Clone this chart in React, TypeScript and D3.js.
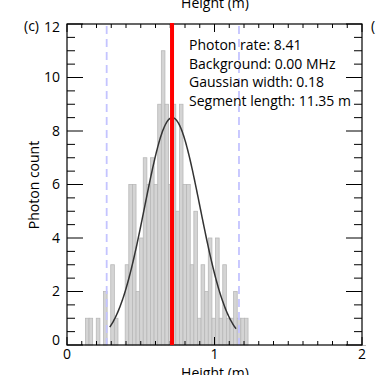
import React from "react";
import * as d3 from "d3";

// Histogram (bin starts at BIN_START, uniform BIN_WIDTH)
const BIN_START = 0.125;
const BIN_WIDTH = 0.0245;
const counts = [
  1, 1, 0, 1, 0, 2, 0, 3, 1, 0, 0,
  3, 6, 6, 2, 4, 7, 6, 7, 6, 9, 11, 9, 6, 9, 5, 9, 6, 6, 3, 5,
  1, 3, 2, 4, 1, 4, 1, 3, 1, 1, 2, 1, 1, 1,
];

const yMajorTicks = [0, 2, 4, 6, 8, 10, 12];
const xMajorTicks = [0, 1, 2];

// Gaussian fit parameters
const fitCenter = 0.714;
const fitSigma = 0.188;
const fitAmp = 8.5;
const fitFrom = 0.29;
const fitTo = 1.146;

const redLineX = 0.712;
const dashedX = [0.269, 1.166];

const infoLines = [
  "Photon rate: 8.41",
  "Background: 0.00 MHz",
  "Gaussian width: 0.18",
  "Segment length: 11.35 m",
];

const FONT = "'Open Sans', 'Noto Sans', sans-serif";

export default function App() {
  const W = 386;
  const H = 375;
  const x = d3.scaleLinear().domain([0, 2]).range([67, 362]);
  const y = d3.scaleLinear().domain([0, 12]).range([345, 24]);

  const yMinor = d3.range(0, 12.001, 0.5);
  const xMinor = d3.range(0, 2.001, 0.1);

  const fitPts = d3.range(0, 201).map((i) => {
    const xv = fitFrom + ((fitTo - fitFrom) * i) / 200;
    return [xv, fitAmp * Math.exp(-((xv - fitCenter) ** 2) / (2 * fitSigma ** 2))];
  });
  const line = d3
    .line<number[]>()
    .x((d) => x(d[0]))
    .y((d) => y(d[1]));

  const bars = counts.map((c, i) => ({
    x0: BIN_START + i * BIN_WIDTH,
    x1: BIN_START + (i + 1) * BIN_WIDTH,
    c,
  }));

  return (
    <svg
      width={W}
      height={H}
      style={{ position: "absolute", left: 0, top: 0, background: "#fff" }}
      fontFamily={FONT}
    >
      {/* histogram */}
      {bars
        .filter((b) => b.c > 0)
        .map((b, i) => (
          <rect
            key={i}
            x={x(b.x0)}
            y={y(b.c)}
            width={x(b.x1) - x(b.x0)}
            height={y(0) - y(b.c)}
            fill="#d4d4d4"
            stroke="#b8b8b8"
            strokeWidth={0.8}
          />
        ))}

      {/* dashed lines */}
      {dashedX.map((d, i) => (
        <line
          key={i}
          x1={x(d)}
          x2={x(d)}
          y1={y(12) + 2}
          y2={y(0)}
          stroke="#c4c4ff"
          strokeWidth={1.8}
          strokeDasharray="8,5"
        />
      ))}

      {/* gaussian */}
      <path d={line(fitPts) || ""} fill="none" stroke="#333" strokeWidth={1.5} />

      {/* axes frame */}
      <line x1={x(2)} x2={x(2) + 4} y1={y(0) + 0.5} y2={y(0) + 0.5} stroke="#bbb" />
      <rect
        x={x(0)}
        y={y(12)}
        width={x(2) - x(0)}
        height={y(0) - y(12)}
        fill="none"
        stroke="#000"
        strokeWidth={1.2}
      />
      {/* y ticks left & right */}
      {yMinor.map((v, i) => {
        const major = Math.abs(v % 2) < 1e-6;
        const len = major ? 16 : 8;
        return (
          <g key={i}>
            <line x1={x(0)} x2={x(0) + len} y1={y(v)} y2={y(v)} stroke="#000" />
            <line x1={x(2)} x2={x(2) - len} y1={y(v)} y2={y(v)} stroke="#000" />
          </g>
        );
      })}
      {/* x ticks top & bottom */}
      {xMinor.map((v, i) => {
        const major = Math.abs(v - Math.round(v)) < 1e-6;
        const len = major ? 8 : 4;
        return (
          <g key={i}>
            <line x1={x(v)} x2={x(v)} y1={y(0)} y2={y(0) - len} stroke="#000" />
            <line x1={x(v)} x2={x(v)} y1={y(12)} y2={y(12) + len} stroke="#000" />
          </g>
        );
      })}

      {/* red line */}
      <line
        x1={x(redLineX)}
        x2={x(redLineX)}
        y1={y(12) - 1}
        y2={y(0)}
        stroke="#ff0000"
        strokeWidth={4}
      />

      {/* y tick labels */}
      {yMajorTicks.map((v) => {
        let cy = y(v);
        if (v === 12) cy += 3;
        if (v === 0) cy -= 5;
        return (
          <text key={v} x={60} y={cy} dy="0.35em" textAnchor="end" fontSize={14}>
            {v}
          </text>
        );
      })}
      {/* x tick labels */}
      {xMajorTicks.map((v) => (
        <text key={v} x={x(v)} y={359} textAnchor="middle" fontSize={14}>
          {v}
        </text>
      ))}

      <text x={215} y={378} textAnchor="middle" fontSize={14}>
        Height (m)
      </text>
      <text x={215} y={8} textAnchor="middle" fontSize={14}>
        Height (m)
      </text>
      <text
        transform={`translate(39,185) rotate(-90)`}
        textAnchor="middle"
        fontSize={14}
      >
        Photon count
      </text>
      <text x={24} y={31} fontSize={14}>
        (c)
      </text>
      <text x={371} y={31} fontSize={14}>
        (
      </text>

      {infoLines.map((t, i) => (
        <text key={i} x={189} y={50 + i * 18.7} fontSize={14}>
          {t}
        </text>
      ))}
    </svg>
  );
}
